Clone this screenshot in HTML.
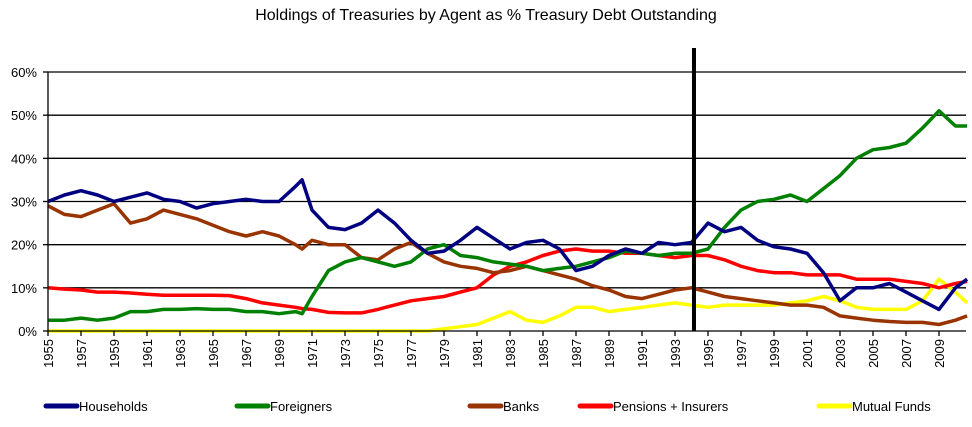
<!DOCTYPE html>
<html><head><meta charset="utf-8"><style>
body{margin:0;background:#fff;width:972px;height:422px;overflow:hidden;font-family:"Liberation Sans",Arial,sans-serif}
</style></head><body>
<svg id="chart" width="972" height="422" xmlns="http://www.w3.org/2000/svg" font-family="Liberation Sans, Arial, sans-serif">
<text x="486" y="20" text-anchor="middle" font-size="16">Holdings of Treasuries by Agent as % Treasury Debt Outstanding</text>
<g id="grid"></g><g id="series"></g><g id="axes"></g><g id="legend"></g>
</svg>
<script>
const years=[1955,1956,1957,1958,1959,1960,1961,1962,1963,1964,1965,1966,1967,1968,1969,1970,1970.4,1971,1972,1973,1974,1975,1976,1977,1978,1979,1980,1981,1982,1983,1984,1985,1986,1987,1988,1989,1990,1991,1992,1993,1994,1995,1996,1997,1998,1999,2000,2001,2002,2003,2004,2005,2006,2007,2008,2009,2010,2010.7];
const households=[30,31.5,32.5,31.5,30,31,32,30.5,30,28.5,29.5,30,30.5,30,30,33.5,35,28,24,23.5,25,28,25,21,18,18.5,21,24,21.5,19,20.5,21,19,14,15,17.5,19,18,20.5,20,20.5,25,23,24,21,19.5,19,18,13.5,7,10,10,11,9,7,5,10,12];
const foreigners=[2.5,2.5,3,2.5,3,4.5,4.5,5,5,5.2,5,5,4.5,4.5,4,4.5,4,8,14,16,17,16,15,16,19,20,17.5,17,16,15.5,15,14,14.5,15,16,17,18.5,18,17.5,18,18,19,24,28,30,30.5,31.5,30,33,36,40,42,42.5,43.5,47,51,47.5,47.5];
const banks=[29,27,26.5,28,29.5,25,26,28,27,26,24.5,23,22,23,22,20,19,21,20,20,17,16.5,19,20.5,18,16,15,14.5,13.5,14,15,14,13,12,10.5,9.5,8,7.5,8.5,9.5,10,9,8,7.5,7,6.5,6,6,5.5,3.5,3,2.5,2.2,2,2,1.5,2.5,3.5];
const pensions=[10,9.7,9.5,9,9,8.8,8.5,8.3,8.3,8.3,8.3,8.2,7.5,6.5,6,5.5,5.2,5,4.3,4.2,4.2,5,6,7,7.5,8,9,10,13,15,16,17.5,18.5,19,18.5,18.5,18,18,17.5,17,17.5,17.5,16.5,15,14,13.5,13.5,13,13,13,12,12,12,11.5,11,10,11,11.5];
const mutualFunds=[0,0,0,0,0,0,0,0,0,0,0,0,0,0,0,0,0,0,0,0,0,0,0,0,0,0.5,1,1.5,3,4.5,2.5,2,3.5,5.5,5.5,4.5,5,5.5,6,6.5,6,5.5,6,6,6,6,6.5,7,8,7,5.5,5,5,5,7,12,9,6.5];
const yTicks=[0,10,20,30,40,50,60];
const yTickLabels=["0%","10%","20%","30%","40%","50%","60%"];
const xTickYears=[1955,1957,1959,1961,1963,1965,1967,1969,1971,1973,1975,1977,1979,1981,1983,1985,1987,1989,1991,1993,1995,1997,1999,2001,2003,2005,2007,2009];
const markerYear=1994.15;
const seriesNames=["Households","Foreigners","Banks","Pensions + Insurers","Mutual Funds"];

const NS="http://www.w3.org/2000/svg";
const X0=48,X1=966,Y0=331,Y1=72;
const xs=y=>X0+(y-1955)*16.5;
const ys=v=>Y0-v*(Y0-Y1)/60;
function mk(tag,attrs,parent){const e=document.createElementNS(NS,tag);for(const k in attrs)e.setAttribute(k,attrs[k]);parent.appendChild(e);return e;}
const grid=document.getElementById('grid'),axes=document.getElementById('axes'),ser=document.getElementById('series'),leg=document.getElementById('legend');
yTicks.forEach((t,i)=>{
  if(t>0){const g=mk('line',{x1:X0,x2:X1,y1:ys(t),y2:ys(t),stroke:'#000','stroke-width':1.3},grid);
  
  }
  const tl=mk('line',{x1:X0-5,x2:X0,y1:ys(t),y2:ys(t),stroke:'#000','stroke-width':1.3},axes);
  
  
  const tx=mk('text',{x:37,y:ys(t)+5,'text-anchor':'end','font-size':13},axes);
  tx.textContent=yTickLabels[i];
  
  
});
const ya=mk('line',{x1:X0,x2:X0,y1:Y1,y2:Y0,stroke:'#000','stroke-width':1.3},axes);


const xa=mk('line',{x1:X0,x2:X1,y1:Y0,y2:Y0,stroke:'#000','stroke-width':1.3},axes);


xTickYears.forEach(yr=>{
  const x=xs(yr);
  const tl=mk('line',{x1:x,x2:x,y1:Y0,y2:Y0+5,stroke:'#000','stroke-width':1.3},axes);
  
  
  const tx=mk('text',{x:0,y:0,'text-anchor':'end','font-size':13,transform:`translate(${x+5},${Y0+8}) rotate(-90)`},axes);
  tx.textContent=yr;
  
  
});
const colors=['#000080','#008000','#993300','#ff0000','#ffff00'];
const data=[households,foreigners,banks,pensions,mutualFunds];
const order=[4,3,2,1,0];
order.forEach(i=>{
  const d=data[i].map((v,j)=>(j?'L':'M')+xs(years[j]).toFixed(1)+','+ys(v).toFixed(1)).join(' ');
  const p=mk('path',{d:d,fill:'none',stroke:colors[i],'stroke-width':3.5,'stroke-linejoin':'round'},ser);
  
  
});
const mx=xs(markerYear);
const ml=mk('line',{x1:mx,x2:mx,y1:48,y2:Y0,stroke:'#000','stroke-width':4},ser);


const legX=[46,237,470,580,819];
seriesNames.forEach((n,i)=>{
  const g=mk('g',{},leg);
  
  
  mk('line',{x1:legX[i],x2:legX[i]+31,y1:406,y2:406,stroke:colors[i],'stroke-width':5,'stroke-linecap':'round'},g);
  const t=mk('text',{x:legX[i]+33,y:411,'font-size':13},g);
  t.textContent=n;
});
</script>
</body></html>
